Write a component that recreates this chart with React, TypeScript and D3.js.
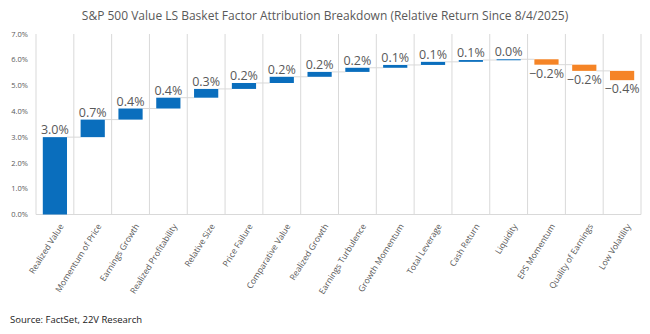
import React from "react";
import * as d3 from "d3";

const title = "S&P 500 Value LS Basket Factor Attribution Breakdown (Relative Return Since 8/4/2025)";
const source = "Source: FactSet, 22V Research";
const categories = [
  "Realized Value", "Momentum of Price", "Earnings Growth", "Realized Profitability",
  "Relative Size", "Price Failure", "Comparative Value", "Realized Growth",
  "Earnings Turbulence", "Growth Momentum", "Total Leverage", "Cash Return",
  "Liquidity", "EPS Momentum", "Quality of Earnings", "Low Volatility",
];
const contributions = [3.0, 0.68, 0.43, 0.42, 0.34, 0.23, 0.24, 0.19, 0.16, 0.11, 0.12, 0.07, 0.03, -0.21, -0.24, -0.36];
const yTicks = [0, 1, 2, 3, 4, 5, 6, 7];

const W = 650, H = 334;
const FONT = "'Open Sans', 'Noto Sans', sans-serif";
const GRID = "#d9d9d9";
const TXT = "#595959";
const BLUE = "#0a6ebd";
const ORANGE = "#f58426";

export default function App() {
  const x = d3.scaleBand<string>().domain(categories).range([36, 641]).paddingInner(0.36).paddingOuter(0.18);
  const y = d3.scaleLinear().domain([0, 7]).range([214.5, 34]);
  const step = x.step();
  const bw = x.bandwidth();

  let acc = 0;
  const bars = contributions.map((v, i) => {
    const start = acc;
    acc += v;
    return { cat: categories[i], v, start, end: acc };
  });

  const edges = categories.map((c) => (x(c) as number) + bw / 2 - step / 2);
  edges.push(edges[edges.length - 1] + step);
  const fmt = d3.format(".1f");

  return (
    <svg width={W} height={H} style={{ position: "absolute", left: 0, top: 0, background: "#fff" }} fontFamily={FONT}>
      <text x={325} y={20} textAnchor="middle" fontSize={12} fill={TXT}>{title}</text>
      {edges.map((e, i) => (
        <line key={"g" + i} x1={e} x2={e} y1={y(7)} y2={y(0)} stroke={GRID} strokeWidth={1} />
      ))}
      <line x1={edges[0]} x2={edges[edges.length - 1]} y1={y(0)} y2={y(0)} stroke={GRID} strokeWidth={1} />
      {yTicks.map((t) => (
        <text key={"y" + t} x={28} y={y(t)} dy="0.35em" textAnchor="end" fontSize={7.5} fill={TXT}>
          {t.toFixed(1) + "%"}
        </text>
      ))}
      {bars.slice(0, -1).map((b, i) => {
        const nx = x(categories[i + 1]) as number;
        return (
          <line key={"c" + i} x1={(x(b.cat) as number) + bw} x2={nx} y1={y(b.end)} y2={y(b.end)} stroke={GRID} strokeWidth={1} />
        );
      })}
      {bars.map((b) => {
        const top = y(Math.max(b.start, b.end));
        const bot = y(Math.min(b.start, b.end));
        const cx = (x(b.cat) as number) + bw / 2;
        return (
          <g key={b.cat}>
            <rect x={x(b.cat)} y={top} width={bw} height={Math.max(1, bot - top)} fill={b.v >= 0 ? BLUE : ORANGE} />
            <text x={cx} y={b.v >= 0 ? top - 3 : bot + 13} textAnchor="middle" fontSize={12.5} fill={TXT}>
              {fmt(b.v) + "%"}
            </text>
          </g>
        );
      })}
      {categories.map((c) => {
        const cx = (x(c) as number) + bw / 2;
        return (
          <text key={"x" + c} transform={`translate(${cx + 4},${223}) rotate(-58)`} textAnchor="end" dy="0.7em" fontSize={8.5} fill={TXT}>
            {c}
          </text>
        );
      })}
      <text x={10} y={323} fontSize={9.5} fill="#1a1a1a">{source}</text>
    </svg>
  );
}
